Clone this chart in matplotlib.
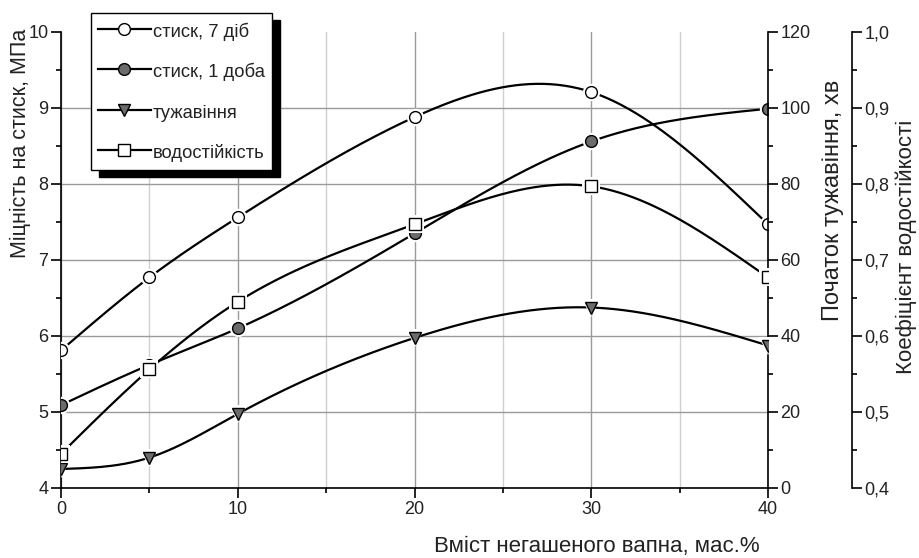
import numpy as np
import matplotlib
matplotlib.use("Agg")
from matplotlib import pyplot as plt
from matplotlib.lines import Line2D
from matplotlib.patches import Rectangle
from matplotlib.ticker import MultipleLocator

# lime content, wt.%
lime = [0, 5, 10, 20, 30, 40]
# compressive strength, MPa
strength_7d = [5.81, 6.77, 7.56, 8.88, 9.21, 7.47]
strength_1d = [5.09, 5.62, 6.10, 7.35, 8.56, 8.99]
# setting start, min
setting = [5, 8, 19.5, 39.5, 47.5, 37.5]
# water resistance coefficient
water_coef = [0.445, 0.556, 0.645, 0.747, 0.797, 0.677]

labels = ["стиск, 7 діб", "стиск, 1 доба", "тужавіння", "водостійкість"]
left_ticks = [4, 5, 6, 7, 8, 9, 10]
right_ticks = [0, 20, 40, 60, 80, 100, 120]
coef_ticks = [0.4, 0.5, 0.6, 0.7, 0.8, 0.9, 1.0]
coef_ticklabels = ["0,4", "0,5", "0,6", "0,7", "0,8", "0,9", "1,0"]
x_ticks = [0, 10, 20, 30, 40]

plt.rcParams['font.family'] = ['Liberation Sans', 'DejaVu Sans']
txt = '#222222'


def spline(x, y, n=300):
    # natural cubic spline, like the smooth connect lines in Origin
    x = np.asarray(x, float)
    y = np.asarray(y, float)
    h = np.diff(x)
    m = len(x)
    A = np.zeros((m, m))
    r = np.zeros(m)
    A[0, 0] = A[-1, -1] = 1
    for i in range(1, m - 1):
        A[i, i - 1] = h[i - 1]
        A[i, i] = 2 * (h[i - 1] + h[i])
        A[i, i + 1] = h[i]
        r[i] = 3 * ((y[i + 1] - y[i]) / h[i] - (y[i] - y[i - 1]) / h[i - 1])
    c = np.linalg.solve(A, r)
    b = (y[1:] - y[:-1]) / h - h * (2 * c[:-1] + c[1:]) / 3
    d = (c[1:] - c[:-1]) / (3 * h)
    xs = np.linspace(x[0], x[-1], n)
    k = np.clip(np.searchsorted(x, xs) - 1, 0, m - 2)
    dx = xs - x[k]
    return xs, y[k] + b[k] * dx + c[k] * dx ** 2 + d[k] * dx ** 3


fig = plt.figure(figsize=(9.19, 5.58), dpi=100)
ax = fig.add_axes([61 / 919, 1 - 488 / 558, 707 / 919, 456 / 558])
ax2 = ax.twinx()
ax3 = ax.twinx()
for a in (ax, ax2, ax3):
    a.patch.set_visible(False)

ms = 8.5
lw = 1.6


def series(a, y, marker, face):
    xs, ys = spline(lime, y)
    a.plot(xs, ys, color='k', lw=lw, zorder=3)
    # white halo leaves a small gap between curve and marker
    a.plot(lime, y, ls='none', marker=marker, ms=ms + 4, mfc='white', mec='white', mew=0, zorder=4)
    a.plot(lime, y, ls='none', marker=marker, ms=ms, mfc=face, mec='k', mew=1.0, zorder=5)


series(ax, strength_7d, 'o', 'white')
series(ax, strength_1d, 'o', '#6b6b6b')
series(ax2, setting, 'v', '#6b6b6b')
series(ax3, water_coef, 's', 'white')

# main axis
ax.set_xlim(0, 40)
ax.set_ylim(4, 10)
ax.set_xticks(x_ticks)
ax.xaxis.set_minor_locator(MultipleLocator(5))
ax.set_yticks(left_ticks)
ax.yaxis.set_minor_locator(MultipleLocator(0.5))
ax.spines['top'].set_visible(False)
ax.spines['right'].set_visible(False)
ax.grid(which='major', color='#9a9a9a', lw=1.0)
ax.grid(which='minor', axis='x', color='#cfcfcf', lw=1.0)
ax.yaxis.get_major_ticks()[-1].gridline.set_visible(False)

ax2.set_ylim(0, 120)
ax2.set_yticks(right_ticks)
ax2.yaxis.set_minor_locator(MultipleLocator(10))
for s in ('top', 'left', 'bottom'):
    ax2.spines[s].set_visible(False)

ax3.set_ylim(0.4, 1.0)
ax3.set_yticks(coef_ticks)
ax3.set_yticklabels(coef_ticklabels)
ax3.yaxis.set_minor_locator(MultipleLocator(0.05))
ax3.spines['right'].set_position(('axes', 1.119))
for s in ('top', 'left', 'bottom'):
    ax3.spines[s].set_visible(False)

for a in (ax, ax2, ax3):
    for s in a.spines.values():
        s.set_linewidth(1.2)
    a.tick_params(which='major', direction='out', length=7, width=1.2,
                  labelsize=13, labelcolor=txt, pad=2)
    a.tick_params(which='minor', direction='out', length=3.5, width=1.2)

ax.set_xlabel("Вміст негашеного вапна, мас.%", fontsize=16, color=txt, va='center')
ax.xaxis.set_label_coords(0.758, -0.128)
ax.set_ylabel("Міцність на стиск, МПа", fontsize=15.5, color=txt, va='center')
ax.yaxis.set_label_coords(-0.057, 0.755)
ax2.set_ylabel("Початок тужавіння, хв", fontsize=17, color=txt, va='center')
ax2.yaxis.set_label_coords(1.092, 0.63)
ax3.set_ylabel("Коефіцієнт водостійкості", fontsize=16, color=txt, va='center')
ax3.yaxis.set_label_coords(1.195, 0.528)

handles = [
    Line2D([], [], color='k', lw=lw, marker='o', ms=ms, mfc='white', mec='k'),
    Line2D([], [], color='k', lw=lw, marker='o', ms=ms, mfc='#6b6b6b', mec='k'),
    Line2D([], [], color='k', lw=lw, marker='v', ms=ms, mfc='#6b6b6b', mec='k'),
    Line2D([], [], color='k', lw=lw, marker='s', ms=ms, mfc='white', mec='k'),
]
leg = fig.legend(handles, labels, loc='upper left', bbox_to_anchor=(91 / 919, 1 - 13 / 558),
                 borderaxespad=0, fontsize=13.2, frameon=True, fancybox=False,
                 framealpha=1, edgecolor='k', handlelength=2.85, handletextpad=0.12,
                 handleheight=1.4, labelspacing=1.05, borderpad=0.4)
leg.get_frame().set_linewidth(1.0)
for t in leg.get_texts():
    t.set_color(txt)

# hard black drop shadow behind the legend box
fig.canvas.draw()
bb = leg.get_window_extent().transformed(fig.transFigure.inverted())
dx, dy = 8 / 919, 7 / 558
fig.add_artist(Rectangle((bb.x0 + dx, bb.y0 - dy), bb.width, bb.height,
                         transform=fig.transFigure, color='k', zorder=4.5))

fig.savefig("out.png", dpi=100)
